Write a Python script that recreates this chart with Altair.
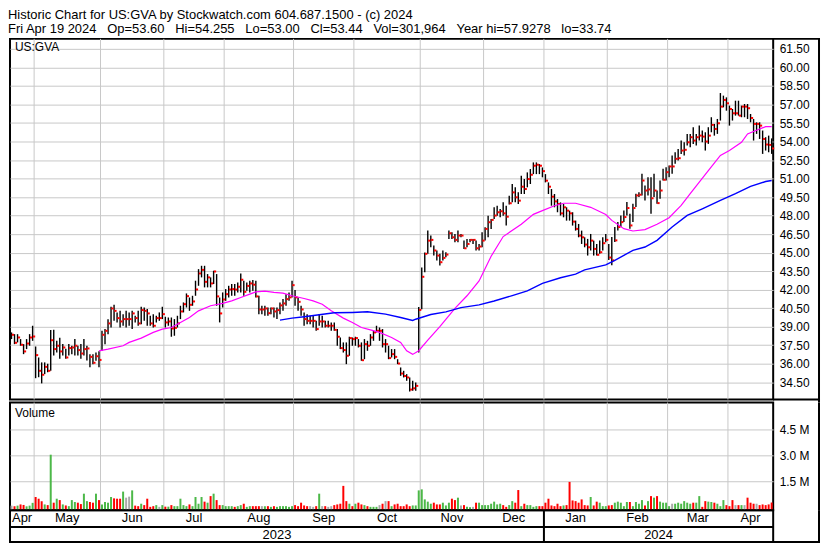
import altair as alt
import numpy as np
import pandas as pd

FONT = "Liberation Sans"

# ---------------- header / labels ----------------
title_line1 = "Historic Chart for US:GVA by Stockwatch.com 604.687.1500 - (c) 2024"
SP = "\u00a0\u00a0\u00a0"
title_line2 = SP.join(["Fri Apr 19 2024", "Op=53.60", "Hi=54.255", "Lo=53.00",
                       "Cl=53.44", "Vol=301,964", "Year hi=57.9278", "lo=33.74"])
symbol_label = "US:GVA"
volume_label = "Volume"

price_ticks = [34.5, 36.0, 37.5, 39.0, 40.5, 42.0, 43.5, 45.0, 46.5, 48.0, 49.5,
               51.0, 52.5, 54.0, 55.5, 57.0, 58.5, 60.0, 61.5]
volume_ticks = [1.5, 3.0, 4.5]

holidays = ["2023-05-29", "2023-06-19", "2023-07-04", "2023-09-04", "2023-11-23",
            "2023-12-25", "2024-01-01", "2024-01-15", "2024-02-19", "2024-03-29"]

# ---------------- daily bars (close / high / low / volume in millions) ----------------
apr23_c = [38.34, 37.69, 38.12, 37.53, 36.99, 37.63, 38.12, 38.20]
apr23_h = [38.53, 38.39, 38.39, 37.99, 37.58, 37.99, 38.39, 39.07]
apr23_l = [37.99, 37.58, 37.72, 37.45, 36.77, 37.18, 37.45, 37.85]
apr23_v = [0.12, 0.08, 0.12, 0.19, 0.16, 0.08, 0.12, 0.28]

may_c = [36.69, 35.42, 35.10, 35.74, 35.42, 37.90, 37.18, 37.45, 36.99, 37.31, 36.50,
         37.26, 37.31, 37.45, 37.10, 36.82, 37.18, 37.23, 36.55, 36.07, 36.60, 36.30]
may_h = [37.39, 36.50, 36.10, 36.10, 36.00, 38.72, 38.75, 37.85, 38.10, 37.60, 37.20,
         37.60, 37.45, 38.00, 37.45, 37.60, 38.00, 37.45, 36.77, 36.77, 36.90, 37.00]
may_l = [34.82, 34.90, 34.40, 35.15, 35.30, 35.42, 36.65, 36.90, 36.40, 36.65, 36.40,
         36.65, 36.77, 36.65, 36.65, 36.40, 36.65, 36.25, 35.70, 35.96, 36.23, 35.70]
may_v = [0.62, 0.52, 0.38, 0.19, 0.15, 3.06, 0.29, 0.52, 0.44, 0.19, 0.13,
         0.09, 0.44, 0.33, 0.29, 0.21, 0.81, 0.38, 0.33, 0.29, 0.81, 0.44]

jun_c = [38.34, 38.66, 39.26, 40.47, 40.28, 39.69, 39.42, 39.61, 39.61, 39.61, 40.07,
         39.69, 39.26, 40.34, 40.28, 40.07, 39.26, 39.07, 39.69, 39.69, 40.01]
jun_h = [38.66, 38.80, 39.60, 40.61, 40.77, 40.15, 40.28, 40.01, 40.28, 40.15, 40.28,
         39.88, 40.28, 40.61, 40.55, 40.42, 39.88, 40.01, 39.88, 40.15, 40.61]
jun_l = [37.04, 37.58, 38.39, 38.93, 39.47, 39.34, 38.93, 39.07, 38.93, 39.07, 38.80,
         39.34, 39.07, 39.20, 39.47, 39.07, 39.07, 38.93, 39.34, 39.47, 39.61]
jun_v = [0.19, 0.33, 0.29, 0.62, 0.54, 0.52, 0.52, 0.93, 0.58, 0.64, 1.00,
         0.12, 0.09, 0.23, 0.15, 0.52, 0.05, 0.09, 0.15, 0.05, 0.15]

jul_c = [39.34, 39.42, 38.85, 38.90, 39.26, 40.23, 40.82, 41.47, 40.77, 41.04,
         42.01, 43.31, 43.60, 42.63, 42.99, 42.50, 43.47, 41.45, 40.07, 41.20]
jul_h = [39.80, 39.74, 39.74, 39.61, 39.88, 40.69, 40.96, 41.69, 41.36, 41.50,
         42.72, 43.66, 43.93, 43.93, 43.26, 42.99, 43.53, 43.26, 41.36, 41.77]
jul_l = [38.93, 39.07, 38.18, 38.26, 38.93, 39.61, 40.15, 40.55, 40.28, 40.69,
         41.50, 42.31, 42.99, 42.18, 42.18, 42.18, 42.45, 40.69, 39.34, 40.55]
jul_v = [0.06, 0.06, 0.15, 0.09, 0.09, 0.52, 0.15, 0.09, 0.19, 0.09,
         0.62, 0.23, 0.62, 0.35, 0.29, 0.67, 0.81, 0.44, 0.15, 0.15]

aug_c = [41.63, 42.01, 42.04, 42.00, 42.23, 42.80, 41.82, 42.30, 42.50, 42.40, 41.45, 40.39,
         40.39, 40.47, 40.09, 40.47, 40.23, 40.34, 40.72, 40.88, 41.23, 41.37, 42.36]
aug_h = [42.04, 42.31, 42.45, 42.45, 42.58, 43.31, 42.72, 42.58, 42.72, 42.77, 42.72, 41.50,
         40.69, 40.69, 40.55, 40.55, 40.55, 40.55, 40.96, 41.23, 41.63, 41.77, 42.72]
aug_l = [41.09, 41.36, 41.50, 41.50, 41.77, 41.77, 41.50, 41.90, 41.77, 41.90, 41.36, 40.01,
         40.01, 39.88, 39.88, 40.01, 39.74, 39.61, 40.01, 40.28, 40.69, 41.09, 41.36]
aug_v = [0.09, 0.09, 0.09, 0.05, 0.09, 0.15, 0.23, 0.05, 0.09, 0.09, 0.09, 0.09,
         0.09, 0.09, 0.09, 0.05, 0.09, 0.05, 0.09, 0.09, 0.09, 0.05, 0.09]

sep_c = [41.37, 41.01, 40.39, 39.61, 39.47, 39.47, 39.47, 38.80, 39.42, 39.42,
         39.07, 39.07, 39.07, 38.74, 38.18, 37.26, 37.10, 36.64, 38.07, 37.99]
sep_h = [41.96, 41.36, 40.69, 40.15, 40.01, 39.88, 39.88, 39.47, 40.01, 39.88,
         39.47, 39.47, 39.34, 39.34, 38.80, 38.12, 37.72, 37.72, 38.18, 38.12]
sep_l = [40.69, 40.28, 39.88, 39.07, 39.20, 39.20, 38.93, 38.66, 39.07, 38.93,
         38.93, 38.93, 38.66, 38.66, 37.45, 37.18, 36.90, 35.96, 36.64, 37.45]
sep_v = [0.15, 0.09, 0.29, 0.13, 0.09, 0.09, 0.05, 0.09, 0.81, 0.09,
         0.09, 0.05, 0.09, 0.15, 0.19, 0.23, 1.26, 0.38, 0.23, 0.09]

oct_c = [38.07, 37.45, 36.28, 37.58, 37.45, 38.12, 38.53, 38.66, 38.66, 37.58, 37.58,
         36.45, 36.77, 36.55, 36.01, 35.20, 35.00, 34.88, 33.90, 34.00, 34.20, 40.35]
oct_h = [38.18, 37.99, 37.72, 37.99, 37.85, 38.39, 38.66, 39.07, 38.93, 38.80, 37.99,
         37.45, 37.18, 37.18, 36.36, 35.69, 35.42, 35.15, 34.88, 34.61, 34.47, 40.60]
oct_l = [37.45, 37.31, 36.23, 36.36, 37.04, 37.45, 37.85, 38.53, 37.85, 37.31, 36.90,
         36.36, 36.50, 36.36, 35.96, 35.01, 34.88, 34.61, 33.74, 33.80, 33.80, 36.90]
oct_v = [0.23, 0.29, 0.19, 0.15, 0.09, 0.05, 0.05, 0.05, 0.15, 0.23, 0.38,
         0.38, 0.09, 0.19, 0.23, 0.09, 0.09, 0.19, 0.09, 0.13, 0.13, 1.00]

nov_c = [43.04, 44.90, 45.97, 46.03, 45.17, 44.76, 44.22, 44.57, 44.84, 46.57, 46.24,
         46.03, 46.38, 46.38, 45.35, 45.70, 46.03, 46.03, 45.35, 45.49, 45.97]
nov_h = [43.80, 45.00, 46.78, 46.38, 45.57, 45.17, 44.90, 45.17, 45.03, 46.78, 46.65,
         46.51, 46.78, 46.51, 45.97, 46.11, 46.11, 46.11, 45.97, 45.70, 46.65]
nov_l = [40.40, 43.40, 44.90, 45.43, 44.76, 44.36, 43.95, 44.36, 44.63, 46.11, 46.11,
         45.84, 45.84, 46.24, 45.30, 45.43, 45.84, 45.70, 45.17, 45.17, 45.43]
nov_v = [1.06, 0.48, 0.35, 0.23, 0.29, 0.19, 0.19, 0.29, 0.13, 0.29, 0.52,
         0.44, 0.58, 0.13, 0.15, 0.05, 0.03, 0.05, 0.29, 0.29, 0.15]

dec_c = [46.92, 47.46, 47.65, 48.00, 48.27, 48.35, 48.18, 47.91, 49.00, 49.88,
         49.48, 49.21, 50.34, 50.15, 50.96, 51.31, 52.04, 52.12, 52.04, 51.60]
dec_h = [47.05, 47.99, 47.73, 48.67, 48.80, 48.53, 49.07, 48.80, 49.61, 50.56,
         50.29, 49.88, 51.23, 50.96, 51.50, 51.77, 52.31, 52.31, 52.17, 51.90]
dec_l = [45.97, 46.24, 46.92, 47.73, 47.99, 47.86, 47.99, 47.19, 48.90, 49.07,
         49.07, 48.94, 49.75, 49.75, 50.29, 50.56, 51.36, 51.36, 51.36, 51.10]
dec_v = [0.15, 0.15, 0.23, 0.35, 0.19, 0.23, 0.15, 0.05, 0.15, 0.38,
         0.29, 1.02, 0.09, 0.23, 0.15, 0.15, 0.05, 0.09, 0.09, 0.09]

jan_c = [50.83, 50.34, 49.53, 49.15, 48.94, 48.18, 48.67, 48.40, 48.18, 47.51, 46.92,
         46.38, 46.24, 45.65, 45.43, 45.97, 45.30, 44.82, 45.03, 45.76, 46.03]
jan_h = [51.36, 50.69, 50.15, 49.75, 49.34, 49.07, 48.94, 48.67, 48.40, 48.27, 47.59,
         47.32, 46.78, 46.24, 46.11, 46.51, 45.97, 45.70, 45.97, 46.24, 46.51]
jan_l = [50.69, 49.75, 48.80, 48.67, 48.27, 48.00, 47.86, 47.59, 47.59, 47.19, 46.78,
         46.24, 45.70, 45.43, 44.76, 45.17, 44.76, 44.76, 44.90, 45.17, 45.84]
jan_v = [0.29, 0.52, 0.13, 0.09, 0.23, 0.09, 0.13, 0.15, 1.49, 0.42, 0.38,
         0.29, 0.48, 0.15, 0.13, 0.62, 0.13, 0.35, 0.29, 0.09, 0.09]

feb_c = [44.60, 44.37, 45.99, 47.07, 47.47, 47.88, 48.61, 47.20, 48.61, 49.63,
         49.69, 50.84, 50.03, 50.12, 49.40, 50.03, 49.01, 50.03, 50.90, 51.52]
feb_h = [45.70, 46.26, 47.07, 47.47, 48.01, 48.42, 49.09, 48.15, 48.96, 49.77,
         49.90, 51.38, 50.44, 51.11, 51.11, 51.38, 50.03, 50.84, 51.79, 51.92]
feb_l = [44.40, 43.97, 45.86, 46.80, 47.07, 47.47, 48.01, 46.94, 47.47, 48.69,
         49.50, 49.63, 49.23, 49.63, 48.15, 49.50, 48.96, 49.36, 50.84, 50.84]
feb_v = [0.13, 0.15, 0.29, 0.35, 0.29, 0.09, 0.33, 0.33, 0.09, 0.33,
         0.23, 0.44, 0.13, 0.38, 0.67, 0.58, 0.67, 0.35, 0.29, 0.29]

mar_c = [51.98, 51.98, 52.60, 52.65, 53.27, 53.33, 53.94, 54.35, 54.08, 54.35,
         54.48, 54.40, 54.00, 54.48, 55.35, 55.02, 55.48, 56.83, 57.37, 57.10]
mar_h = [52.06, 52.87, 53.13, 53.40, 54.08, 53.94, 54.62, 54.62, 55.16, 54.62,
         55.29, 54.89, 54.75, 55.16, 55.97, 55.43, 55.83, 57.93, 57.72, 57.58]
mar_l = [51.11, 51.38, 52.19, 52.46, 53.00, 52.87, 53.67, 53.54, 53.81, 53.67,
         54.08, 53.94, 53.27, 53.81, 54.75, 54.48, 54.62, 55.70, 56.77, 56.50]
mar_v = [0.09, 0.23, 0.23, 0.29, 0.23, 0.38, 0.29, 0.23, 0.29, 0.29,
         0.67, 0.05, 0.38, 0.35, 0.33, 0.29, 0.23, 0.09, 0.44, 0.15]

apr24_c = [56.64, 56.29, 56.29, 56.10, 56.83, 56.83, 56.70, 55.91, 55.43, 55.43,
           55.29, 54.21, 53.76, 53.73, 53.44]
apr24_h = [56.91, 56.64, 57.31, 57.31, 56.91, 57.04, 57.04, 56.23, 55.83, 55.56,
           55.56, 54.89, 54.35, 54.48, 54.255]
apr24_l = [55.29, 55.70, 56.10, 56.10, 55.97, 55.97, 55.83, 55.56, 54.08, 54.62,
           54.21, 53.00, 53.27, 53.13, 53.00]
apr24_v = [0.09, 0.44, 0.15, 0.15, 0.15, 0.15, 0.58, 0.29, 0.23, 0.23,
           0.15, 0.19, 0.15, 0.19, 0.30]

# ---------------- moving averages (bar index, value) ----------------
ma_short_idx = [29, 32, 37, 39, 43, 47, 50, 53, 56, 59, 62, 66, 70, 73, 76, 79, 81, 84, 87, 90,
                93, 97, 100, 103, 106, 110, 113, 116, 119, 122, 126, 129, 131, 133, 135, 138,
                142, 147, 151, 155, 159, 163, 169, 173, 176, 180, 183, 187, 192, 197, 199,
                203, 206, 210, 214, 218, 222, 225, 228, 231, 235, 238, 242, 244, 248, 250, 252]
ma_short_val = [37.04, 37.18, 37.45, 37.72, 38.07, 38.53, 38.80, 38.93, 39.34, 39.74, 40.28,
                40.69, 40.88, 41.09, 41.36, 41.63, 41.82, 41.87, 41.77, 41.72, 41.50, 41.28,
                41.09, 40.82, 40.28, 39.69, 39.34, 38.93, 38.74, 38.53, 38.12, 37.72, 37.04,
                36.75, 37.05, 37.90, 39.00, 40.48, 41.50, 42.70, 44.70, 46.30, 47.30, 48.10,
                48.40, 48.80, 49.00, 49.00, 48.67, 48.08, 47.61, 46.94, 46.75, 46.86, 47.29,
                47.83, 48.82, 49.77, 50.71, 51.65, 52.87, 53.27, 53.94, 54.62, 55.02, 55.21,
                55.21]
ma_long_idx = [89, 93, 97, 102, 107, 113, 118, 124, 129, 133, 134, 139, 144, 149, 155, 160,
               166, 171, 176, 182, 187, 190, 197, 200, 206, 210, 214, 219, 224, 229, 235,
               240, 245, 250, 252]
ma_long_val = [39.53, 39.69, 39.80, 39.96, 40.12, 40.15, 40.20, 40.01, 39.74, 39.50, 39.60,
               39.98, 40.20, 40.54, 40.76, 41.08, 41.51, 41.89, 42.50, 42.96, 43.25, 43.60,
               44.00, 44.37, 45.18, 45.45, 45.99, 47.07, 48.01, 48.55, 49.23, 49.77, 50.36,
               50.76, 50.84]

# ---------------- assemble ----------------
closes = apr23_c + may_c + jun_c + jul_c + aug_c + sep_c + oct_c + nov_c + dec_c + jan_c + feb_c + mar_c + apr24_c
highs = apr23_h + may_h + jun_h + jul_h + aug_h + sep_h + oct_h + nov_h + dec_h + jan_h + feb_h + mar_h + apr24_h
lows = apr23_l + may_l + jun_l + jul_l + aug_l + sep_l + oct_l + nov_l + dec_l + jan_l + feb_l + mar_l + apr24_l
vols = apr23_v + may_v + jun_v + jul_v + aug_v + sep_v + oct_v + nov_v + dec_v + jan_v + feb_v + mar_v + apr24_v

dates = pd.bdate_range("2023-04-19", "2024-04-19", freq="C", holidays=holidays)
n = len(dates)
assert len(closes) == n and len(highs) == n and len(lows) == n and len(vols) == n, \
    (n, len(closes), len(highs), len(lows), len(vols))

df = pd.DataFrame({"i": np.arange(n), "date": dates, "close": closes,
                   "high": highs, "low": lows, "vol": vols})
df["t0"] = df["i"] + 0.1
df["t1"] = df["i"] + 0.85
df["v0"] = df["i"] - 0.33
df["v1"] = df["i"] + 0.33
prev = df["close"].shift(1)
df["dir"] = np.where(df["close"] > prev, "up", np.where(df["close"] < prev, "down", "flat"))

df["month"] = df["date"].dt.strftime("%Y-%m")
months = df.groupby("month", sort=True)["i"].agg(["min", "max"]).reset_index()
months["mid"] = (months["min"] + months["max"]) / 2.0
months["label"] = pd.to_datetime(months["month"] + "-01").dt.strftime("%b")
month_bounds = pd.DataFrame({"b": months["min"].iloc[1:].values - 0.5})

df["year"] = df["date"].dt.year
years = df.groupby("year")["i"].agg(["min", "max"]).reset_index()
years["mid"] = ((years["min"] - 0.5) + (years["max"] + 0.5)) / 2.0
years["label"] = years["year"].astype(str)
year_bounds = pd.DataFrame({"b": years["min"].iloc[1:].values - 0.5})

ma_short = pd.DataFrame({"i": ma_short_idx, "v": ma_short_val})
ma_long = pd.DataFrame({"i": ma_long_idx, "v": ma_long_val})
one = pd.DataFrame({"k": [0]})

# ---------------- geometry ----------------
W = 766
H_PRICE = 362
H_VOL = 108
H_AX = 32
RIGHT = W + 46
GRID = "#c8c8c8"

xs = alt.Scale(domain=[-0.5, n - 0.5], nice=False, zero=False)
ys = alt.Scale(domain=[33.09, 62.32], nice=False, zero=False)
vs = alt.Scale(domain=[-0.14, 6.07], nice=False, zero=False)


def xenc(field):
    return alt.X(f"{field}:Q", scale=xs, axis=None)


def frame_rule(x, x2, y, y2):
    return alt.Chart(one).mark_rule(color="black", strokeWidth=2).encode(
        x=alt.value(x), x2=alt.value(x2), y=alt.value(y), y2=alt.value(y2))


# ---------------- price panel ----------------
price_axis = alt.Axis(orient="right", values=price_ticks, format=".2f", grid=True,
                      gridColor=GRID, gridWidth=1, tickSize=0, domain=False,
                      labelPadding=6, title=None)


def py(field):
    return alt.Y(f"{field}:Q", scale=ys, axis=price_axis)


p_grid = alt.Chart(month_bounds).mark_rule(color=GRID, strokeWidth=1).encode(x=xenc("b"))
p_bars = alt.Chart(df).mark_rule(color="black", strokeWidth=1.4).encode(
    x=xenc("i"), y=py("low"), y2="high:Q")
p_close = alt.Chart(df).mark_rule(color="#ff0000", strokeWidth=2).encode(
    x=xenc("t0"), x2="t1:Q", y=py("close"))
p_ma1 = alt.Chart(ma_short).mark_line(color="#ff00ff", strokeWidth=1.2).encode(
    x=xenc("i"), y=py("v"))
p_ma2 = alt.Chart(ma_long).mark_line(color="#0000ff", strokeWidth=1.4).encode(
    x=xenc("i"), y=py("v"))
p_label = alt.Chart(pd.DataFrame({"t": [symbol_label]})).mark_text(
    align="left", baseline="alphabetic", fontSize=12, font=FONT, color="black").encode(
    x=alt.value(5), y=alt.value(12), text="t:N")

price = alt.layer(
    p_grid, p_bars, p_close, p_ma1, p_ma2, p_label,
    frame_rule(W, RIGHT + 1, 0, 0),
    frame_rule(W, RIGHT + 1, H_PRICE, H_PRICE),
    frame_rule(RIGHT, RIGHT, 0, H_PRICE + 3),
).properties(width=W, height=H_PRICE)

# ---------------- volume panel ----------------
vol_axis = alt.Axis(orient="right", values=volume_ticks,
                    labelExpr="format(datum.value, '.1f') + ' M'", grid=True,
                    gridColor=GRID, gridWidth=1, tickSize=0, domain=False,
                    labelPadding=6, title=None)

v_grid = alt.Chart(month_bounds).mark_rule(color=GRID, strokeWidth=1).encode(x=xenc("b"))
v_bars = alt.Chart(df).mark_bar().encode(
    x=xenc("v0"), x2="v1:Q",
    y=alt.Y("vol:Q", scale=vs, axis=vol_axis), y2=alt.value(H_VOL),
    color=alt.Color("dir:N", scale=alt.Scale(domain=["up", "down", "flat"],
                                             range=["#4cb848", "#ff0000", "#a9a9a9"]),
                    legend=None))
v_label = alt.Chart(pd.DataFrame({"t": [volume_label]})).mark_text(
    align="left", baseline="alphabetic", fontSize=12, font=FONT, color="black").encode(
    x=alt.value(5), y=alt.value(15), text="t:N")

volume = alt.layer(
    v_grid, v_bars, v_label,
    frame_rule(RIGHT, RIGHT, 0, H_VOL),
).properties(width=W, height=H_VOL)

# ---------------- date axis panel ----------------
a_months = alt.Chart(months).mark_text(fontSize=13, font=FONT, baseline="middle",
                                       color="black").encode(
    x=xenc("mid"), y=alt.value(8), text="label:N")
a_years = alt.Chart(years).mark_text(fontSize=13, font=FONT, baseline="middle",
                                     color="black").encode(
    x=xenc("mid"), y=alt.value(24.5), text="label:N")
a_sep = alt.Chart(one).mark_rule(color="black", strokeWidth=2).encode(
    x=alt.value(0), x2=alt.value(W), y=alt.value(17))
a_ybound = alt.Chart(year_bounds).mark_rule(color="black", strokeWidth=2).encode(
    x=xenc("b"), y=alt.value(0), y2=alt.value(H_AX))

axis_panel = alt.layer(
    a_months, a_years, a_sep, a_ybound,
    frame_rule(RIGHT, RIGHT, 0, H_AX),
    frame_rule(W, RIGHT + 1, H_AX, H_AX),
).properties(width=W, height=H_AX)

lower = alt.vconcat(volume, axis_panel, spacing=0, bounds="flush")

chart = alt.vconcat(price, lower, spacing=3, bounds="flush").properties(
    title=alt.TitleParams(text=[title_line1, title_line2], anchor="start", fontSize=13,
                          font=FONT, fontWeight="normal", color="black", lineHeight=14,
                          offset=1),
    padding=0,
).configure_view(stroke="black", strokeWidth=2).configure_axis(
    labelFont=FONT, labelFontSize=12, labelColor="black")

chart.save("out.html", embed_options={"renderer": "svg", "actions": False})
